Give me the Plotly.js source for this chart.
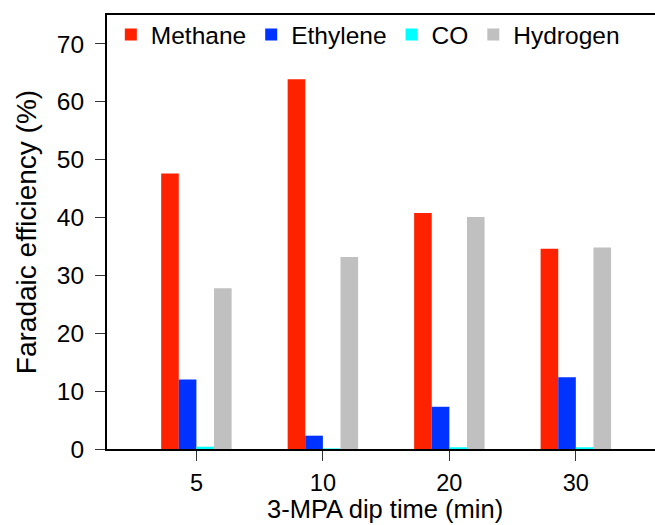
<!DOCTYPE html>
<html>
<head>
<meta charset="utf-8">
<script src="https://cdn.plot.ly/plotly-3.0.1.min.js"></script>
<style>html,body{margin:0;padding:0;background:#fff;}#chart{width:655px;height:525px;}</style>
</head>
<body>
<div id="chart"></div>
<script>
const categories = ['5', '10', '20', '30'];
const methane = [47.6, 63.9, 40.8, 34.6];
const ethylene = [12.0, 2.3, 7.3, 12.4];
const co = [0.4, 0.1, 0.3, 0.3];
const hydrogen = [27.8, 33.2, 40.1, 34.8];
const yTicks = [0, 10, 20, 30, 40, 50, 60, 70];
const xTitle = '3-MPA dip time (min)';
const yTitle = 'Faradaic efficiency (%)';

const names = ['Methane', 'Ethylene', 'CO', 'Hydrogen'];
const series = [methane, ethylene, co, hydrogen];
const colors = ['#ff2200', '#0033ff', '#00ffff', '#c0c0c0'];

const data = series.map((vals, i) => ({
  type: 'bar',
  name: names[i],
  x: categories,
  y: vals,
  marker: {color: colors[i], line: {width: 0}}
}));

const font = {family: 'Liberation Sans, Arial, sans-serif', color: '#000'};

const layout = {
  width: 655, height: 525,
  margin: {l: 107, r: 0, t: 15, b: 75.5, pad: 0},
  paper_bgcolor: '#fff', plot_bgcolor: '#fff',
  barmode: 'group', bargap: 0.443, bargroupgap: 0,
  font: Object.assign({size: 24}, font),
  showlegend: true,
  legend: {
    orientation: 'h', x: 0.007, y: 1.007, xanchor: 'left', yanchor: 'top',
    bgcolor: 'rgba(0,0,0,0)', borderwidth: 0,
    font: Object.assign({size: 24.5}, font)
  },
  xaxis: {
    type: 'category', range: [-0.707, 3.626],
    showline: true, linecolor: '#000', linewidth: 2, mirror: true,
    ticks: 'outside', ticklen: 10, tickcolor: '#333', tickwidth: 1,
    ticklabelstandoff: 2,
    showgrid: false, zeroline: false,
    tickfont: Object.assign({size: 23.5}, font)
  },
  yaxis: {
    range: [0, 75], tickvals: yTicks, ticktext: yTicks.map(String),
    showline: true, linecolor: '#000', linewidth: 2,
    ticks: 'outside', ticklen: 10, tickcolor: '#333', tickwidth: 1,
    ticklabelstandoff: 6,
    showgrid: false, zeroline: false,
    tickfont: Object.assign({size: 24.5}, font),
    title: {text: yTitle, font: Object.assign({size: 28}, font), standoff: 12}
  },
  annotations: [{
    text: xTitle, xref: 'paper', yref: 'paper', x: 0.508, y: -0.1735,
    xanchor: 'center', yanchor: 'bottom', showarrow: false, borderpad: 0,
    font: Object.assign({size: 25.5}, font)
  }]
};

Plotly.newPlot('chart', data, layout, {displayModeBar: false, staticPlot: true});
</script>
</body>
</html>
